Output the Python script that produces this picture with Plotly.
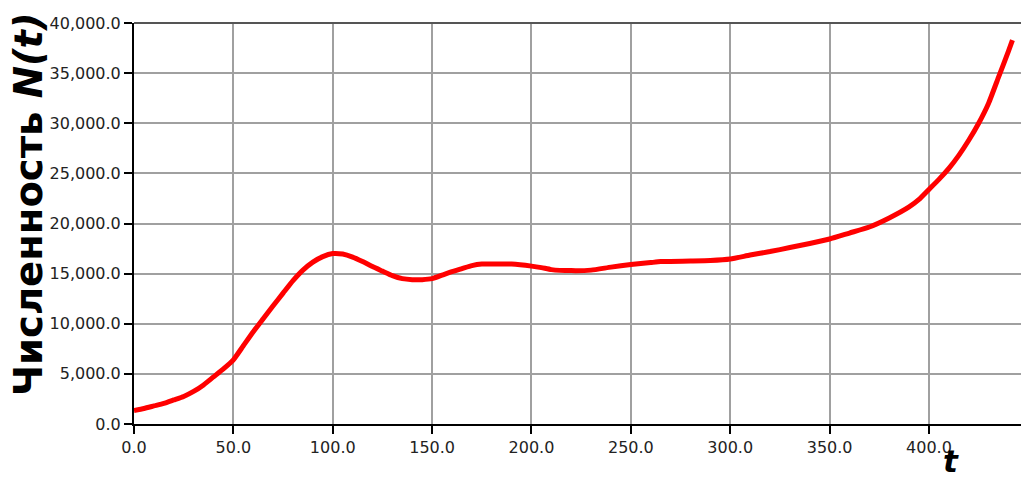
import plotly.graph_objects as go

# Population size N(t) over time t
t_values = [0, 5, 10, 15, 20, 25, 30, 35, 40, 45, 50, 55, 60, 65, 70, 75, 80, 85,
            90, 95, 100, 105, 110, 115, 120, 125, 130, 135, 140, 145, 150, 155,
            160, 165, 170, 175, 180, 190, 200, 205, 210, 220, 230, 240, 250, 260,
            265, 280, 290, 300, 310, 320, 330, 340, 350, 360, 370, 380, 390, 395,
            400, 405, 410, 415, 420, 425, 430, 435, 440, 442]
n_values = [1350, 1550, 1800, 2050, 2400, 2750, 3250, 3900, 4700, 5500, 6400, 7800,
            9200, 10500, 11800, 13050, 14300, 15350, 16150, 16700, 17000, 16950,
            16650, 16200, 15700, 15250, 14800, 14500, 14400, 14400, 14500, 14850,
            15200, 15500, 15800, 15950, 15950, 15950, 15750, 15600, 15400, 15300,
            15350, 15650, 15900, 16100, 16200, 16250, 16300, 16450, 16850, 17200,
            17600, 18000, 18450, 19050, 19650, 20550, 21650, 22400, 23400, 24400,
            25500, 26800, 28300, 30000, 32000, 34600, 37200, 38300]

x_ticks = [0, 50, 100, 150, 200, 250, 300, 350, 400]
y_ticks = [0, 5000, 10000, 15000, 20000, 25000, 30000, 35000, 40000]

fig = go.Figure()
fig.add_trace(go.Scatter(
    x=t_values, y=n_values, mode="lines",
    line=dict(color="#ff0000", width=5, shape="spline", smoothing=0.5),
    showlegend=False, hoverinfo="skip",
))

tick_font = dict(family="DejaVu Sans", size=16, color="#222222")

fig.update_layout(
    width=1021, height=482,
    margin=dict(l=134, r=0, t=23, b=58),
    paper_bgcolor="white", plot_bgcolor="white",
    xaxis=dict(
        range=[0, 446.3], tickvals=x_ticks, tickformat=".1f",
        showgrid=True, gridcolor="#a0a0a0", gridwidth=1.5,
        showline=True, linecolor="black", linewidth=2,
        ticks="outside", ticklen=8, tickcolor="black", tickwidth=1.5,
        tickfont=tick_font, zeroline=False,
    ),
    yaxis=dict(
        range=[0, 40000], tickvals=y_ticks, tickformat=",.1f",
        showgrid=True, gridcolor="#a0a0a0", gridwidth=1.5,
        showline=True, linecolor="black", linewidth=2,
        ticks="outside", ticklen=8, tickcolor="black", tickwidth=1.5,
        tickfont=tick_font, zeroline=False,
    ),
    shapes=[dict(type="line", xref="paper", yref="paper", x0=0, x1=1, y0=1, y1=1,
                 line=dict(color="#555555", width=2))],
    annotations=[
        dict(text="<b>Численность <i>N(t)</i></b>", textangle=-90,
             xref="paper", yref="paper", x=-0.1195, y=0.5486,
             xanchor="center", yanchor="middle", showarrow=False,
             font=dict(family="DejaVu Sans", size=38.5, color="black")),
        dict(text="<b><i>t</i></b>", xref="x", yref="paper", x=411, y=-0.1421,
             xanchor="center", yanchor="bottom", showarrow=False,
             font=dict(family="DejaVu Sans", size=31, color="black")),
    ],
)

fig.write_html("out.html")
